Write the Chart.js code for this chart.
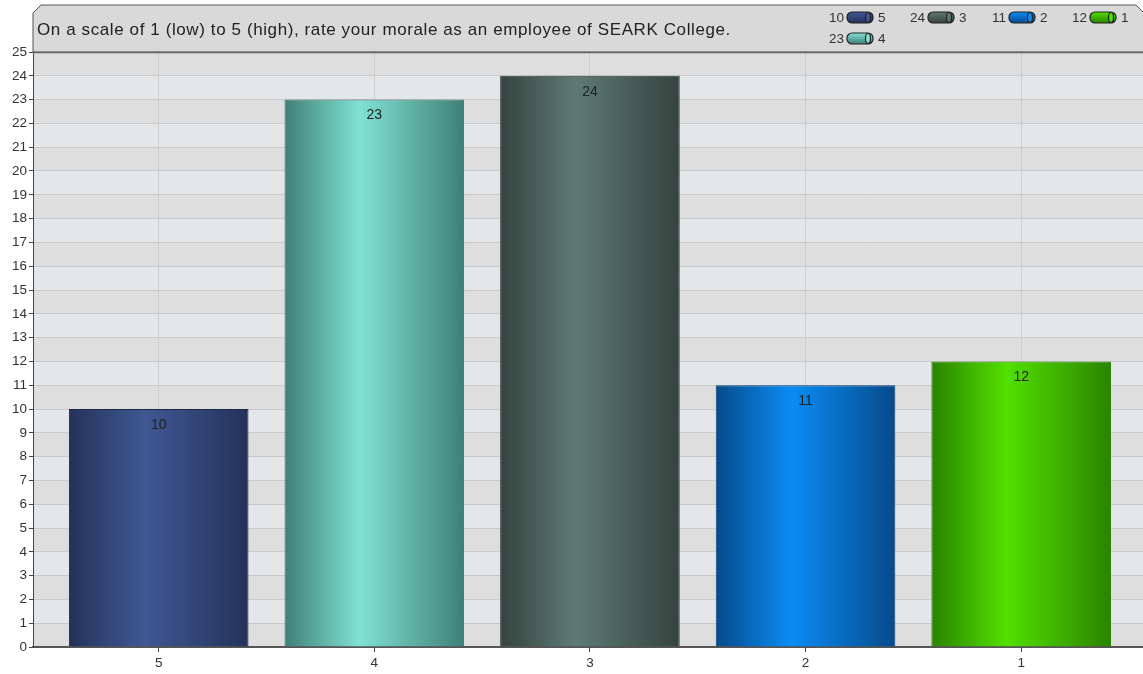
<!DOCTYPE html>
<html>
<head>
<meta charset="utf-8">
<script src="https://cdn.jsdelivr.net/npm/chart.js@4.4.0/dist/chart.umd.min.js"></script>
<style>
  body { margin: 0; background: #fff; }
  #wrap { width: 1143px; height: 674px; }
</style>
</head>
<body>
<div id="wrap"><canvas id="chart" width="1143" height="674"></canvas></div>
<script>
const title = 'On a scale of 1 (low) to 5 (high), rate your morale as an employee of SEARK College.';
const categories = ['5', '4', '3', '2', '1'];
const counts = [10, 23, 24, 11, 12];
// edge colour, highlight colour, border colour for each bar
const edgeColors = ['#24325a', '#3f8077', '#35433f', '#074a8c', '#2a8300'];
const lightColors = ['#3f5893', '#80e2d4', '#5e7a74', '#0a8cf4', '#52e000'];
const borderColors = ['#1c2848', '#3a7068', '#2e3a36', '#063f78', '#268000'];
// legend order as it appears in the picture
const legendOrder = [0, 2, 3, 4, 1];

const font = '"Liberation Sans", Arial, sans-serif';

function barGradient(ctx, i) {
    const chart = ctx.chart;
    const xs = chart.scales.x;
    if (!xs || !chart.chartArea) return lightColors[i];
    const cx = xs.getPixelForValue(i);
    const half = (xs.getPixelForValue(1) - xs.getPixelForValue(0)) * 0.833 / 2;
    const g = chart.ctx.createLinearGradient(cx - half, 0, cx + half, 0);
    g.addColorStop(0, edgeColors[i]);
    g.addColorStop(0.42, lightColors[i]);
    g.addColorStop(1, edgeColors[i]);
    return g;
}

const decor = {
    id: 'decor',
    beforeDraw(chart) {
        const c = chart.ctx;
        const a = chart.chartArea;
        const y = chart.scales.y;
        c.save();
        for (let k = 0; k < 25; k++) {
            c.fillStyle = (k % 2 === 0) ? '#dedede' : '#e4e7ea';
            const top = y.getPixelForValue(k + 1);
            const bot = y.getPixelForValue(k);
            c.fillRect(a.left, top, a.right - a.left, bot - top);
        }
        // header box
        c.beginPath();
        c.moveTo(a.left, a.top);
        c.lineTo(a.left, 13);
        c.lineTo(a.left + 8, 5);
        c.lineTo(1136, 5);
        c.lineTo(1144, 13);
        c.lineTo(1144, a.top);
        c.closePath();
        c.fillStyle = '#d9d9d9';
        c.fill();
        c.strokeStyle = '#555';
        c.lineWidth = 1;
        c.stroke();
        c.fillStyle = '#222';
        c.font = '17px ' + font;
        c.letterSpacing = '0.6px';
        c.textBaseline = 'middle';
        c.textAlign = 'left';
        c.fillText(title, 37, 30);
        c.letterSpacing = '0px';
        c.restore();
    },
    afterDraw(chart) {
        const c = chart.ctx;
        const a = chart.chartArea;
        c.save();
        // top line of plot
        c.strokeStyle = '#666';
        c.lineWidth = 1.5;
        c.beginPath();
        c.moveTo(a.left, a.top + 0.5);
        c.lineTo(a.right, a.top + 0.5);
        c.stroke();
        // bar value labels
        const meta = chart.getDatasetMeta(0);
        c.font = '14px ' + font;
        c.fillStyle = '#222';
        c.textAlign = 'center';
        c.textBaseline = 'middle';
        meta.data.forEach((bar, i) => {
            c.fillText(String(counts[i]), bar.x, bar.y + 16);
        });
        // legend
        c.font = '13.5px ' + font;
        legendOrder.forEach((idx, n) => {
            const col = n % 4, row = Math.floor(n / 4);
            const sx = 847 + col * 81;
            const sy = 12 + row * 21;
            c.fillStyle = '#333';
            c.textAlign = 'right';
            c.fillText(String(counts[idx]), sx - 3, sy + 6);
            c.textAlign = 'left';
            c.fillText(categories[idx], sx + 31, sy + 6);
            const g = c.createLinearGradient(0, sy, 0, sy + 11);
            g.addColorStop(0, lightColors[idx]);
            g.addColorStop(1, edgeColors[idx]);
            c.beginPath();
            c.roundRect(sx, sy, 26, 11, 5);
            c.fillStyle = g;
            c.fill();
            c.strokeStyle = '#222';
            c.lineWidth = 1.2;
            c.stroke();
            c.beginPath();
            c.ellipse(sx + 21, sy + 5.5, 2.5, 5, 0, 0, Math.PI * 2);
            c.fillStyle = lightColors[idx];
            c.fill();
            c.stroke();
        });
        c.restore();
    }
};

new Chart(document.getElementById('chart'), {
    type: 'bar',
    data: {
        datasets: [{
            data: counts.map((v, i) => ({ x: i, y: v })),
            backgroundColor: ctx => barGradient(ctx, ctx.dataIndex),
            borderColor: borderColors,
            borderWidth: 1,
            categoryPercentage: 1,
            barPercentage: 0.833
        }]
    },
    options: {
        responsive: false,
        animation: false,
        layout: { padding: { top: 52, right: 0, left: 0, bottom: 0 } },
        plugins: { legend: { display: false }, tooltip: { enabled: false } },
        scales: {
            x: {
                type: 'linear',
                min: -0.583,
                max: 4.565,
                offset: false,
                afterFit(s) { s.height = 27; },
                ticks: {
                    stepSize: 1,
                    includeBounds: false,
                    autoSkip: false,
                    maxRotation: 0,
                    color: '#333',
                    padding: 3,
                    font: { family: font, size: 13.5 },
                    callback: v => Number.isInteger(v) && categories[v] !== undefined ? categories[v] : ''
                },
                grid: { color: '#cdcdcd', tickColor: '#444', tickLength: 5, offset: false },
                border: { color: '#555', width: 2 }
            },
            y: {
                min: 0,
                max: 25,
                afterFit(s) { s.width = 33; },
                ticks: {
                    stepSize: 1,
                    color: '#333',
                    padding: 2,
                    font: { family: font, size: 13.5 }
                },
                grid: { color: '#cacaca', tickColor: '#444', tickLength: 4 },
                border: { color: '#444', width: 1 }
            }
        }
    },
    plugins: [decor]
});
</script>
</body>
</html>
